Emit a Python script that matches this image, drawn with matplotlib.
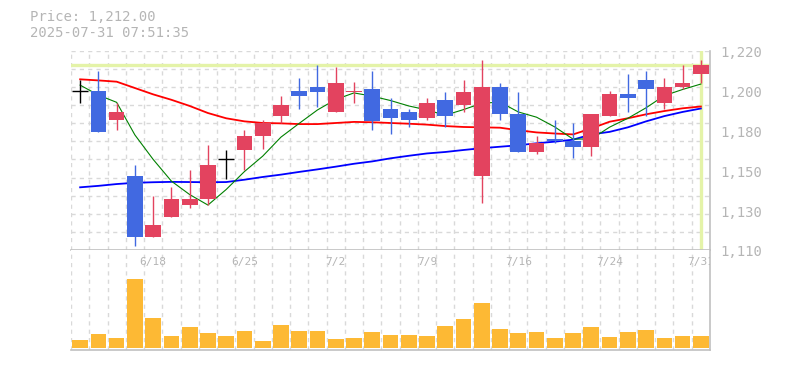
import matplotlib
matplotlib.use("Agg")
import matplotlib.pyplot as plt
import numpy as np

# 日足データ (6/12 - 7/31)
opens  = [1198, 1198, 1182, 1151, 1117, 1128, 1135, 1138, 1160, 1165, 1173, 1184,
          1198, 1200, 1186, 1197, 1199, 1188, 1186, 1183, 1193, 1190, 1151, 1200,
          1185, 1164, 1171, 1170, 1167, 1184, 1196, 1204, 1191, 1200, 1207]
highs  = [1204, 1209, 1191, 1157, 1140, 1145, 1154, 1168, 1165, 1176, 1182, 1195,
          1205, 1212, 1211, 1203, 1209, 1194, 1188, 1194, 1197, 1204, 1215, 1202,
          1197, 1173, 1182, 1180, 1185, 1198, 1207, 1209, 1205, 1212, 1215]
lows   = [1191, 1175, 1176, 1112, 1117, 1128, 1133, 1135, 1149, 1154, 1166, 1180,
          1188, 1189, 1186, 1191, 1176, 1174, 1178, 1182, 1178, 1186, 1136, 1182,
          1164, 1163, 1169, 1161, 1162, 1184, 1186, 1184, 1188, 1199, 1202]
closes = [1198, 1175, 1186, 1117, 1124, 1138, 1138, 1157, 1160, 1173, 1180, 1190,
          1195, 1197, 1202, 1198, 1181, 1183, 1182, 1191, 1184, 1197, 1200, 1185,
          1164, 1169, 1170, 1167, 1185, 1196, 1194, 1199, 1200, 1202, 1212]
volumes = [25, 43, 31, 215, 94, 37, 64, 46, 37, 52, 22, 70, 52, 52, 28, 31, 49, 40,
           40, 37, 67, 91, 139, 58, 46, 49, 31, 46, 64, 34, 49, 55, 31, 37, 37]

# 移動平均
ma_short = [1201.0, 1195.5, 1191.5, 1173.5, 1160.0, 1148.0, 1140.6, 1134.8, 1143.4,
            1153.3, 1161.8, 1172.3, 1179.9, 1187.3, 1193.1, 1196.7, 1194.9, 1192.5,
            1189.5, 1187.3, 1184.4, 1187.5, 1191.0, 1191.6, 1186.2, 1183.3, 1177.9,
            1171.2, 1171.3, 1177.8, 1182.7, 1188.5, 1195.2, 1198.6, 1201.6]
ma_mid = [1204.2, 1203.6, 1202.9, 1199.4, 1195.9, 1192.9, 1189.5, 1185.6, 1182.7,
          1181.0, 1180.1, 1179.9, 1179.5, 1179.5, 1180.1, 1180.7, 1180.5, 1180.1,
          1179.7, 1179.2, 1178.4, 1177.9, 1177.7, 1177.5, 1176.1, 1174.9, 1174.3,
          1173.8, 1177.1, 1180.8, 1182.7, 1184.9, 1186.7, 1188.2, 1189.2]
ma_long = [1144.6, 1145.4, 1146.4, 1147.1, 1147.4, 1147.6, 1147.5, 1147.4, 1147.5,
           1148.8, 1150.3, 1151.6, 1153.1, 1154.5, 1156.0, 1157.6, 1158.9, 1160.6,
           1162.0, 1163.3, 1164.1, 1165.2, 1166.2, 1167.0, 1167.8, 1168.9, 1169.8,
           1170.9, 1173.8, 1175.2, 1177.7, 1181.0, 1183.9, 1186.2, 1188.1]

date_labels = ["6/18", "6/25", "7/2", "7/9", "7/16", "7/24", "7/31"]
date_index = [4, 9, 14, 19, 24, 29, 34]
price_ticks = [1110, 1132, 1154, 1176, 1198, 1220]
last_price = 1212.00
timestamp = "2025-07-31 07:51:35"

plt.rcParams["font.family"] = ["DejaVu Sans Mono"]
plt.rcParams["lines.scale_dashes"] = False

UP = "#e3435f"
DOWN = "#4169e1"
GRID = "#d9d9d9"
AXIS = "#c0c0c0"
TEXT = "#b5b5b5"
HL = "#e4f3a8"

W, H = 785, 370
fig = plt.figure(figsize=(W / 100, H / 100), dpi=100)
L, R = 71 / W, 710 / W
ax = fig.add_axes([L, 120 / H, R - L, (319.3 - 120) / H])
axv = fig.add_axes([L, 20 / H, R - L, 100 / H])

n = len(closes)
x = np.arange(n)
bw = 0.86

for a in (ax, axv):
    a.set_xlim(-0.5, n - 0.5)
    for k in range(n):
        a.axvline(k - 0.5, color=GRID, lw=1, ls=(0, (3, 3)), zorder=0)
    for s in ("left", "top"):
        a.spines[s].set_visible(False)
    for s in ("right", "bottom"):
        a.spines[s].set_color(AXIS)
        a.spines[s].set_linewidth(1.2)
    a.set_xticks([])
    a.set_yticks([])

ax.set_ylim(1110, 1220)
for v in range(1120, 1221, 10):
    ax.axhline(v, color=GRID, lw=1, ls=(0, (3, 3)), zorder=0)

# 現在値ライン
ax.axhline(last_price, color=HL, lw=2.4, zorder=1)
ax.axvline(x[-1], color=HL, lw=2.4, zorder=1)

# 移動平均
ax.plot(x, ma_long, color="#0000ff", lw=1.3, zorder=2)
ax.plot(x, ma_mid, color="#ff0000", lw=1.3, zorder=2)
ax.plot(x, ma_short, color="#008000", lw=0.8, zorder=2)

# ローソク足
for i in range(n):
    o, h, l, c = opens[i], highs[i], lows[i], closes[i]
    if c == o:
        ax.vlines(x[i], l, h, color="black", lw=1.0, zorder=3)
        ax.hlines(o, x[i] - bw / 2, x[i] + bw / 2, color="black", lw=1.0, zorder=3)
        continue
    col = UP if c > o else DOWN
    ax.vlines(x[i], l, h, color=col, lw=1.0, zorder=3)
    ax.bar(x[i], abs(c - o), bottom=min(o, c), width=bw, color=col, zorder=4)

for t in price_ticks:
    ax.annotate(f"{round(t, -1):,}", xy=(1, t), xycoords=("axes fraction", "data"),
                xytext=(7.2, -1.8), textcoords="offset points",
                ha="left", va="center", fontsize=10, color=TEXT, annotation_clip=False)

# 出来高
axv.set_ylim(-6.2, 303.4)
axv.bar(x, volumes, width=bw, color="#fdb934", zorder=2)
for i, lab in zip(date_index, date_labels):
    axv.text(x[i], 0.88, lab, transform=axv.get_xaxis_transform(), ha="center",
             va="center", fontsize=8, color=TEXT, clip_on=True)

fig.text(30 / W, 1 - 17.3 / H, f"Price: {last_price:,.2f}", ha="left", va="center",
         fontsize=10, color=TEXT)
fig.text(30 / W, 1 - 32.7 / H, timestamp, ha="left", va="center",
         fontsize=10, color=TEXT)

plt.savefig("out.png", dpi=100)
